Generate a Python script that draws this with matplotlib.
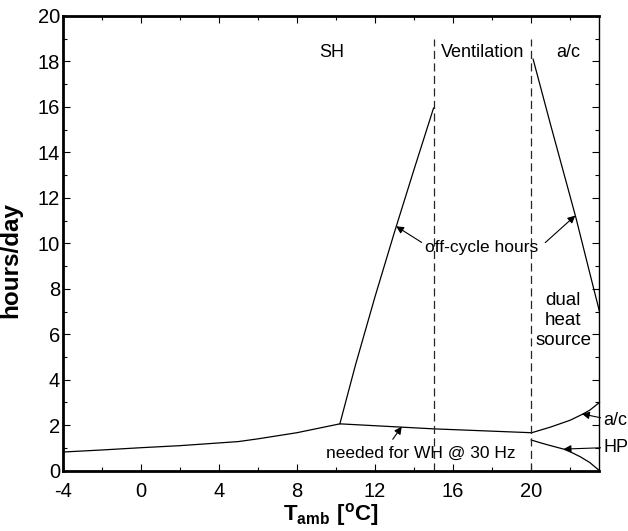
import matplotlib
matplotlib.use("Agg")
import matplotlib.pyplot as plt
import numpy as np

plt.rcParams["font.family"] = ["Liberation Sans", "DejaVu Sans"]
plt.rcParams["mathtext.fontset"] = "custom"
plt.rcParams["mathtext.rm"] = "Liberation Sans"
plt.rcParams["mathtext.bf"] = "Liberation Sans:bold"
plt.rcParams["axes.unicode_minus"] = False

# hours/day needed for water heating at 30 Hz
wh_t = [-4, -2, 0, 2, 4, 5, 6, 8, 10.2, 15, 20]
wh_h = [0.82, 0.91, 1.01, 1.10, 1.22, 1.28, 1.40, 1.67, 2.06, 1.84, 1.67]

# off-cycle hours, space heating side
sh_t = [10.2, 11, 12, 13, 14, 15]
sh_h = [2.06, 4.65, 7.65, 10.5, 13.25, 15.95]

# off-cycle hours, air-conditioning side
ac_off_t = [20.1, 21, 22, 22.3, 23, 23.5]
ac_off_h = [18.1, 15.2, 12.05, 11.1, 8.7, 7.0]

# dual heat source split: a/c and HP shares
ac_t = [20.03, 21, 22, 22.6, 23, 23.5]
ac_h = [1.67, 1.92, 2.22, 2.47, 2.66, 3.0]
hp_t = [20, 20.5, 21, 21.66, 22, 22.5, 23, 23.5]
hp_h = [1.35, 1.22, 1.10, 0.95, 0.83, 0.62, 0.36, 0.0]

# mode boundaries
bounds = [15, 20]
bound_top = 19

fig = plt.figure(figsize=(6.28, 5.31), dpi=100)
ax = fig.add_axes([0.0998, 0.1136, 0.8548, 0.8563])

lw = 0.9
ax.plot(wh_t, wh_h, color="k", lw=lw)
ax.plot(sh_t, sh_h, color="k", lw=lw)
ax.plot(ac_off_t, ac_off_h, color="k", lw=lw)
ax.plot(ac_t, ac_h, color="k", lw=lw, clip_on=False)
ax.plot(hp_t, hp_h, color="k", lw=lw, clip_on=False)
for b in bounds:
    ax.plot([b, b], [0, bound_top], color="0.15", lw=lw, linestyle=(0, (6.5, 3.5)))

ax.set_xlim(-4, 23.5)
ax.set_ylim(0, 20)
ax.set_xticks(np.arange(-4, 21, 4))
ax.set_xticks(np.arange(-4, 23.5, 2), minor=True)
ax.set_yticks(np.arange(0, 21, 2))
ax.set_yticks(np.arange(0, 21, 1), minor=True)
ax.tick_params(which="both", direction="in", top=True, right=True, width=0.8)
ax.tick_params(which="major", length=5, labelsize=14.5)
ax.tick_params(which="minor", length=3)
ax.tick_params(axis="y", pad=2)
ax.tick_params(axis="x", pad=8)

for side in ["left", "bottom", "top"]:
    ax.spines[side].set_linewidth(2)
ax.spines["right"].set_linewidth(1)

ax.set_xlabel(r"$\mathbf{T_{amb}\ [^{o}C]}$", fontsize=16, labelpad=0)
ax.set_ylabel("hours/day", fontsize=17.5, fontweight="bold")
ax.yaxis.set_label_coords(-0.075, 0.464)

fs = 13
ax.text(9.79, 18.2, "SH", fontsize=fs, ha="center", va="baseline")
ax.text(17.49, 18.2, "Ventilation", fontsize=fs, ha="center", va="baseline")
ax.text(21.92, 18.2, "a/c", fontsize=fs, ha="center", va="baseline")
ax.text(21.64, 7.27, "dual", fontsize=13.5, ha="center", va="baseline")
ax.text(21.64, 6.39, "heat", fontsize=13.5, ha="center", va="baseline")
ax.text(21.64, 5.54, "source", fontsize=13.5, ha="center", va="baseline")

arrow = dict(arrowstyle="-|>", color="k", lw=0.8, mutation_scale=11,
             shrinkA=0, shrinkB=0)
ax.text(17.48, 9.81, "off-cycle hours", fontsize=12.5, ha="center", va="center")
ax.annotate("", xy=(13.08, 10.75), xytext=(14.39, 10.04), arrowprops=arrow)
ax.annotate("", xy=(22.26, 11.22), xytext=(20.72, 10.03), arrowprops=arrow)

ax.text(14.36, 0.56, "needed for WH @ 30 Hz", fontsize=12.5, ha="center", va="baseline")
ax.annotate("", xy=(13.37, 1.94), xytext=(12.91, 1.38), arrowprops=arrow)

ax.annotate("a/c", xy=(22.6, 2.5), xytext=(23.7, 2.19), fontsize=13,
            va="center", ha="left", arrowprops=arrow, annotation_clip=False)
ax.annotate("HP", xy=(21.66, 0.95), xytext=(23.7, 1.03), fontsize=13,
            va="center", ha="left", arrowprops=arrow, annotation_clip=False)

fig.savefig("out.png", dpi=100)
